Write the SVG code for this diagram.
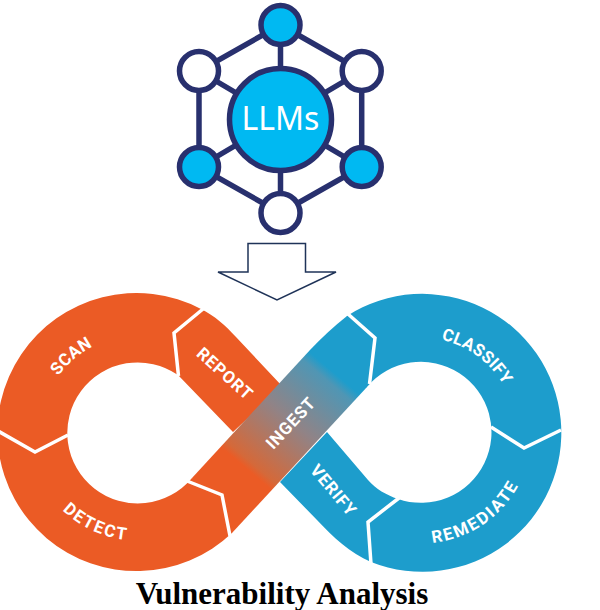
<svg xmlns="http://www.w3.org/2000/svg" width="600" height="610" viewBox="0 0 600 610">
<style>
.edge{stroke:#28306e;stroke-width:5.5;fill:none}
.n{stroke:#28306e;stroke-width:5.5}
.on{fill:#00b9f2}
.off{fill:#fff}
.sep{fill:none;stroke:#fff;stroke-width:3.5;stroke-linejoin:miter}
.lab{font-family:Roboto,"Liberation Sans",sans-serif;font-weight:700;font-size:17px;fill:#fff;text-anchor:middle;letter-spacing:.8px}
</style>
<defs>
<linearGradient id="ingestGrad" gradientUnits="userSpaceOnUse" x1="248" y1="470" x2="332" y2="371">
<stop offset="0" stop-color="#eb5b25"/>
<stop offset="0.06" stop-color="#d4693a"/>
<stop offset="0.5" stop-color="#918386"/>
<stop offset="0.92" stop-color="#5096b4"/>
<stop offset="1" stop-color="#1d9dcc"/>
</linearGradient>
<path id="pScan" d="M40.7,425.7 A97 97 0 0 1 144.3,335.7"/>
<path id="pDetect" d="M36.2,470 A108 108 0 0 0 175,533.8"/>
<path id="pClassify" d="M398.3,340.3 A95 95 0 0 1 515.8,426.2"/>
<path id="pRemediate" d="M381.2,536.1 A111 111 0 0 0 532,434.4"/>
</defs>
<rect width="600" height="610" fill="#fff"/>
<g id="connectors">
<path class="edge" d="M280.5,25 L361.7,71 L361.7,167 L280.5,213 L199,167 L199,71 Z"/>
<path class="edge" d="M280.5,25 V213 M199,71 L361.7,167 M361.7,71 L199,167"/>
</g>
<g id="node-top"><circle class="n on" cx="280.5" cy="25" r="19.5"/></g>
<g id="node-upper-left"><circle class="n off" cx="199" cy="71" r="19.5"/></g>
<g id="node-upper-right"><circle class="n off" cx="361.7" cy="71" r="19.5"/></g>
<g id="node-lower-left"><circle class="n on" cx="199" cy="167" r="19.5"/></g>
<g id="node-lower-right"><circle class="n on" cx="361.7" cy="167" r="19.5"/></g>
<g id="node-bottom"><circle class="n off" cx="280.5" cy="213" r="19.5"/></g>
<g id="node-llms"><circle class="n on" cx="280.5" cy="119.5" r="51"/>
<text x="280.5" y="130" font-family="'Noto Sans','Open Sans',sans-serif" font-size="32" fill="#fff" text-anchor="middle">LLMs</text></g>
<g id="arrow"><path d="M248,243.500 H305.500 V272 H336 L277,300 L218,272 H248 Z" fill="#fff" stroke="#1f3358" stroke-width="1.5"/></g>
<g id="loop">
<path id="lobe-blue" fill="#1d9dcc" d="M347,316 A139 139 0 1 1 371,562 C350,553 333,537 317,520 L280,482 L327,432 L368,480 C376,489 386,495 398,499 A70.5 70.5 0 1 0 367,387 L330,400 Z"/>
<path id="lobe-orange" fill="#eb5b25" d="M232,533 A139 139 0 1 1 201,309 C215,316 225,325 236,337 L282,386 L233,432 L178,375 A70.5 70.5 0 1 0 192,478 L235,490 Z"/>
<path id="band" fill="url(#ingestGrad)" d="M192,478 L310,350 Q328,331 347,316 L367,387 L232,533 Z"/>
<path class="sep" d="M203,309 L174,333 L178.500,376"/>
<path class="sep" d="M-2,431 L35,452 L68,435"/>
<path class="sep" d="M187,481 L222,495 L230,536"/>
<path class="sep" d="M348,314 L375,338 L369.500,384"/>
<path class="sep" d="M491,427 L524,448 L561,430"/>
<path class="sep" d="M399,498 L368,522 L371,564"/>
<text class="lab" style="letter-spacing:.2px"><textPath href="#pScan" startOffset="50%">SCAN</textPath></text>
<text class="lab" style="letter-spacing:1.8px"><textPath href="#pDetect" startOffset="50%">DETECT</textPath></text>
<text class="lab" style="letter-spacing:.2px"><textPath href="#pClassify" startOffset="50%">CLASSIFY</textPath></text>
<text class="lab" style="letter-spacing:1.9px"><textPath href="#pRemediate" startOffset="50%">REMEDIATE</textPath></text>
<text class="lab" transform="translate(221,378) rotate(42)">REPORT</text>
<text class="lab" transform="translate(329,494) rotate(50)">VERIFY</text>
<text class="lab" transform="translate(295,427) rotate(-47)">INGEST</text>
</g>
<text x="282" y="604" font-family="'Liberation Serif',serif" font-weight="700" font-size="31" fill="#000" text-anchor="middle">Vulnerability Analysis</text>
</svg>
